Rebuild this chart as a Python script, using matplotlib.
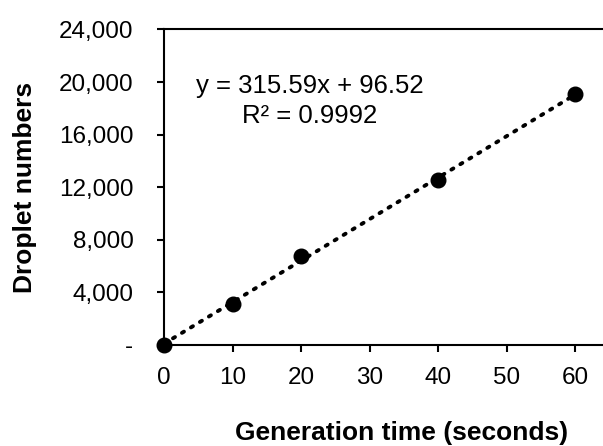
import numpy as np
import matplotlib
matplotlib.use('Agg')
import matplotlib.pyplot as plt
from matplotlib.ticker import FuncFormatter

plt.rcParams['font.family'] = ['Liberation Sans', 'DejaVu Sans']

# data
gen_time = [0, 10, 20, 40, 60]
droplets = [0, 3150, 6800, 12550, 19100]

# trendline as printed on the chart
slope = 315.59
intercept = 96.52
r2 = 0.9992

xticks = [0, 10, 20, 30, 40, 50, 60]
yticks = [0, 4000, 8000, 12000, 16000, 20000, 24000]


def y_fmt(v, pos):
    if v == 0:
        return '-'
    return f'{int(v):,}'


fig = plt.figure(figsize=(6.03, 4.46), dpi=100)
ax = fig.add_axes([164/603, 1 - 345/446, 1 - 164/603, (345 - 29.4)/446])

# dotted linear trendline
xt = np.array([min(gen_time), max(gen_time)])
ax.plot(xt, slope*xt + intercept, color='black', linestyle=(0, (0.6, 2.1)),
        linewidth=2.8, dash_capstyle='round', zorder=2)
ax.plot(gen_time, droplets, 'o', color='black', markersize=10.5, zorder=3, clip_on=False)

ax.set_xlim(0, (603 - 164)/((575 - 164)/60))
ax.set_ylim(0, 24000)
ax.set_xticks(xticks)
ax.set_yticks(yticks)
ax.yaxis.set_major_formatter(FuncFormatter(y_fmt))

for side in ['left', 'bottom', 'top']:
    ax.spines[side].set_linewidth(1.5)
ax.spines['right'].set_visible(False)

ax.tick_params(axis='both', direction='out', length=5, width=1.5, labelsize=17.5)
ax.tick_params(axis='y', pad=17)
ax.tick_params(axis='x', pad=11)

ax.set_ylabel('Droplet numbers', fontsize=19, fontweight='bold')
ax.yaxis.set_label_coords(-0.29, 0.5)
ax.set_xlabel('Generation time (seconds)', fontsize=19, fontweight='bold')
ax.xaxis.set_label_coords((402 - 164)/(603 - 164), -0.24)

ax.text((310 - 164)/(603 - 164), (345 - 101)/(345 - 29.4),
        f'y = {slope}x + {intercept}\nR² = {r2}', transform=ax.transAxes,
        ha='center', va='center', fontsize=18.5, linespacing=1.3)

fig.savefig('out.png', dpi=100)
